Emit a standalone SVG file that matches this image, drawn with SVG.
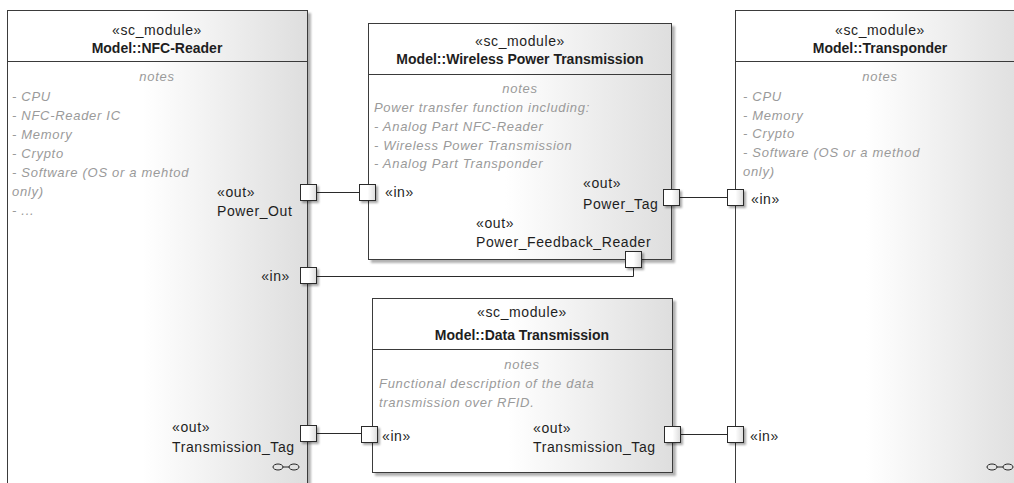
<svg xmlns="http://www.w3.org/2000/svg" width="1014" height="483" viewBox="0 0 1014 483">
  <defs>
    <linearGradient id="blockFill" x1="0" y1="0" x2="1" y2="0">
      <stop offset="0" stop-color="#ffffff"/>
      <stop offset="0.45" stop-color="#ffffff"/>
      <stop offset="1" stop-color="#dedede"/>
    </linearGradient>
    <linearGradient id="portFill" x1="0" y1="0" x2="1" y2="0">
      <stop offset="0" stop-color="#ffffff"/>
      <stop offset="0.5" stop-color="#ffffff"/>
      <stop offset="1" stop-color="#dcdcdc"/>
    </linearGradient>
    <filter id="shadow" x="-5%" y="-5%" width="115%" height="115%">
      <feDropShadow dx="3" dy="3" stdDeviation="1" flood-color="#000000" flood-opacity="0.3"/>
    </filter>
    <filter id="portShadow" x="-20%" y="-20%" width="150%" height="150%">
      <feDropShadow dx="2" dy="2" stdDeviation="0.8" flood-color="#000000" flood-opacity="0.35"/>
    </filter>
    <g id="linkIcon">
      <ellipse cx="0" cy="0" rx="5" ry="3" fill="none" stroke="#222" stroke-width="1"/>
      <line x1="5" y1="0" x2="11" y2="0" stroke="#222" stroke-width="1"/>
      <ellipse cx="16" cy="0" rx="5" ry="3" fill="none" stroke="#222" stroke-width="1"/>
    </g>
  </defs>
  <style>
    .block { fill: url(#blockFill); stroke: #3a3a3a; stroke-width: 1; filter: url(#shadow); }
    .divider { stroke: #3a3a3a; stroke-width: 1; }
    .port { fill: url(#portFill); stroke: #2a2a2a; stroke-width: 1; filter: url(#portShadow); }
    .wire { fill: none; stroke: #2a2a2a; stroke-width: 1; }
    text { font-family: "Liberation Sans", Arial, sans-serif; fill: #1e1e1e; }
    .stereo { font-size: 14px; letter-spacing: 0.6px; text-anchor: middle; }
    .title { font-size: 14px; font-weight: bold; text-anchor: middle; }
    .label { font-size: 14px; letter-spacing: 0.6px; }
    .notesHead { font-size: 13px; font-style: italic; fill: #9a9a9a; text-anchor: middle; letter-spacing: 0.7px; }
    .notes { font-size: 13px; font-style: italic; fill: #9a9a9a; letter-spacing: 0.7px; }
  </style>

  <!-- NFC reader module -->
  <g id="nfc-reader">
    <rect class="block" x="7.5" y="10.5" width="300" height="490"/>
    <line class="divider" x1="7.5" y1="61.5" x2="307.5" y2="61.5"/>
    <text class="stereo" x="157" y="35">«sc_module»</text>
    <text class="title" x="157" y="53">Model::NFC-Reader</text>
    <text class="notesHead" x="157" y="81">notes</text>
    <text class="notes" x="12" y="101">- CPU</text>
    <text class="notes" x="12" y="120">- NFC-Reader IC</text>
    <text class="notes" x="12" y="139">- Memory</text>
    <text class="notes" x="12" y="158">- Crypto</text>
    <text class="notes" x="12" y="177">- Software (OS or a mehtod</text>
    <text class="notes" x="12" y="196">only)</text>
    <text class="notes" x="12" y="215">- ...</text>
    <use href="#linkIcon" x="278" y="467"/>
  </g>

  <!-- Wireless power transmission module -->
  <g id="wireless-power">
    <rect class="block" x="368.5" y="23.5" width="303" height="236"/>
    <line class="divider" x1="368.5" y1="74.5" x2="671.5" y2="74.5"/>
    <text class="stereo" x="520" y="46">«sc_module»</text>
    <text class="title" x="520" y="64">Model::Wireless Power Transmission</text>
    <text class="notesHead" x="520" y="93">notes</text>
    <text class="notes" x="374" y="112">Power transfer function including:</text>
    <text class="notes" x="374" y="131">- Analog Part NFC-Reader</text>
    <text class="notes" x="374" y="150">- Wireless Power Transmission</text>
    <text class="notes" x="374" y="168">- Analog Part Transponder</text>
  </g>

  <!-- Transponder module -->
  <g id="transponder">
    <rect class="block" x="735.5" y="10.5" width="290" height="490"/>
    <line class="divider" x1="735.5" y1="61.5" x2="1025.5" y2="61.5"/>
    <text class="stereo" x="880" y="35">«sc_module»</text>
    <text class="title" x="880" y="53">Model::Transponder</text>
    <text class="notesHead" x="880" y="81">notes</text>
    <text class="notes" x="743" y="101">- CPU</text>
    <text class="notes" x="743" y="120">- Memory</text>
    <text class="notes" x="743" y="138">- Crypto</text>
    <text class="notes" x="743" y="157">- Software (OS or a method</text>
    <text class="notes" x="743" y="176">only)</text>
    <use href="#linkIcon" x="992" y="467"/>
  </g>

  <!-- Data transmission module -->
  <g id="data-transmission">
    <rect class="block" x="372.5" y="298.5" width="300" height="174"/>
    <line class="divider" x1="372.5" y1="349.5" x2="672.5" y2="349.5"/>
    <text class="stereo" x="522" y="317">«sc_module»</text>
    <text class="title" x="522" y="340">Model::Data Transmission</text>
    <text class="notesHead" x="522" y="369">notes</text>
    <text class="notes" x="379" y="388">Functional description of the data</text>
    <text class="notes" x="379" y="407">transmission over RFID.</text>
  </g>

  <!-- connectors between ports -->
  <g id="connectors">
    <line class="wire" x1="316" y1="192.5" x2="360" y2="192.5"/>
    <line class="wire" x1="679" y1="197.5" x2="727" y2="197.5"/>
    <polyline class="wire" points="633.5,267 633.5,276.5 316,276.5"/>
    <line class="wire" x1="316" y1="433.5" x2="362" y2="433.5"/>
    <line class="wire" x1="680" y1="434.5" x2="727" y2="434.5"/>
  </g>

  <!-- ports with their labels -->
  <g id="port-nfc-power-out">
    <rect class="port" x="300.5" y="184.5" width="16" height="16"/>
    <text class="label" x="217" y="197">«out»</text>
    <text class="label" x="217" y="216">Power_Out</text>
  </g>
  <g id="port-nfc-feedback-in">
    <rect class="port" x="300.5" y="267.5" width="16" height="16"/>
    <text class="label" x="290" y="281" text-anchor="end">«in»</text>
  </g>
  <g id="port-nfc-transmission-tag">
    <rect class="port" x="300.5" y="425.5" width="16" height="16"/>
    <text class="label" x="172" y="432">«out»</text>
    <text class="label" x="172" y="452">Transmission_Tag</text>
  </g>
  <g id="port-wpt-in">
    <rect class="port" x="359.5" y="184.5" width="16" height="16"/>
    <text class="label" x="385" y="197">«in»</text>
  </g>
  <g id="port-wpt-power-tag">
    <rect class="port" x="663.5" y="189.5" width="16" height="16"/>
    <text class="label" x="583" y="188">«out»</text>
    <text class="label" x="583" y="209">Power_Tag</text>
  </g>
  <g id="port-wpt-feedback">
    <rect class="port" x="625.5" y="251.5" width="16" height="16"/>
    <text class="label" x="476" y="228">«out»</text>
    <text class="label" x="476" y="247">Power_Feedback_Reader</text>
  </g>
  <g id="port-transponder-power-in">
    <rect class="port" x="727.5" y="189.5" width="16" height="16"/>
    <text class="label" x="751" y="204">«in»</text>
  </g>
  <g id="port-dt-in">
    <rect class="port" x="361.5" y="426.5" width="16" height="16"/>
    <text class="label" x="382" y="441">«in»</text>
  </g>
  <g id="port-dt-out">
    <rect class="port" x="664.5" y="426.5" width="16" height="16"/>
    <text class="label" x="533" y="433">«out»</text>
    <text class="label" x="533" y="452">Transmission_Tag</text>
  </g>
  <g id="port-transponder-data-in">
    <rect class="port" x="727.5" y="426.5" width="16" height="16"/>
    <text class="label" x="750" y="441">«in»</text>
  </g>
</svg>
